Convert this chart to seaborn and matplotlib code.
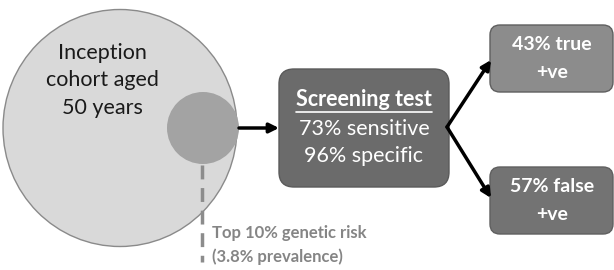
import matplotlib
matplotlib.use("Agg")
import matplotlib.pyplot as plt
import seaborn as sns
from matplotlib.patches import Ellipse, Circle, FancyBboxPatch

sns.set_theme(style="white")
plt.rcParams['font.family'] = ['Lato', 'DejaVu Sans']

# diagram content
cohort_lines = ['Inception', 'cohort aged', '50 years']
risk_lines = ['Top 10% genetic risk', '(3.8% prevalence)']
test_title = 'Screening test'
test_lines = ['73% sensitive', '96% specific']
outcome_pct = [43, 57]
outcome_kind = ['true', 'false']

fig = plt.figure(figsize=(6.14, 2.70), dpi=100)
ax = fig.add_axes([0, 0, 1, 1])
ax.set_xlim(0, 614)
ax.set_ylim(270, 0)
ax.axis('off')

# cohort circles
ax.add_patch(Ellipse((120, 128), 234, 237, facecolor='#d9d9d9', edgecolor='#8a8a8a', lw=1))
ax.add_patch(Circle((203, 128), 36, facecolor='#a3a3a3', edgecolor='none'))
for i, t in enumerate(cohort_lines):
    ax.text(102, 53 + i * 27.5, t, ha='center', va='center', fontsize=15.5, color='#1a1a1a')

# dashed pointer + label
ax.plot([202, 202], [165, 262], color='#8c8c8c', lw=2.5, ls=(0, (4, 2.5)))
for i, t in enumerate(risk_lines):
    ax.text(212, 233 + i * 24, t, ha='left', va='center', fontsize=12,
            fontweight='bold', color='#858585')

# arrow to the test box
ax.annotate('', xy=(279, 128), xytext=(239, 128),
            arrowprops=dict(arrowstyle='-|>', lw=2.5, color='black', mutation_scale=14,
                            shrinkA=0, shrinkB=0))

# screening test box
ax.add_patch(FancyBboxPatch((279, 69), 170, 118, boxstyle='round,pad=0,rounding_size=15',
                            facecolor='#6b6b6b', edgecolor='#5a5a5a', lw=1))
tt = ax.text(364, 100, test_title, ha='center', va='center', fontsize=15.5,
             fontweight='bold', color='white')
for i, t in enumerate(test_lines):
    ax.text(364, 129 + i * 27.5, t, ha='center', va='center', fontsize=15.5, color='white')
fig.canvas.draw()
bb = tt.get_window_extent().transformed(ax.transData.inverted())
ax.plot([bb.x0, bb.x1], [112, 112], color='white', lw=1.2)

# branch arrows and outcome boxes
box_y = [25, 167]
arrow_end = [60, 198]
box_fc = ['#8c8c8c', '#737373']
for pct, kind, y0, ye, fc in zip(outcome_pct, outcome_kind, box_y, arrow_end, box_fc):
    ax.add_patch(FancyBboxPatch((490, y0), 123, 67, boxstyle='round,pad=0,rounding_size=10',
                                facecolor=fc, edgecolor='#5f5f5f', lw=1))
    ax.text(552, y0 + 20, f'{pct}% {kind}', ha='center', va='center', fontsize=14,
            fontweight='bold', color='white')
    ax.text(552, y0 + 48, '+ve', ha='center', va='center', fontsize=14,
            fontweight='bold', color='white')
    ax.annotate('', xy=(491, ye), xytext=(447, 127),
                arrowprops=dict(arrowstyle='-|>', lw=2.5, color='black', mutation_scale=14,
                                shrinkA=0, shrinkB=0))

fig.savefig('out.png', dpi=100)
